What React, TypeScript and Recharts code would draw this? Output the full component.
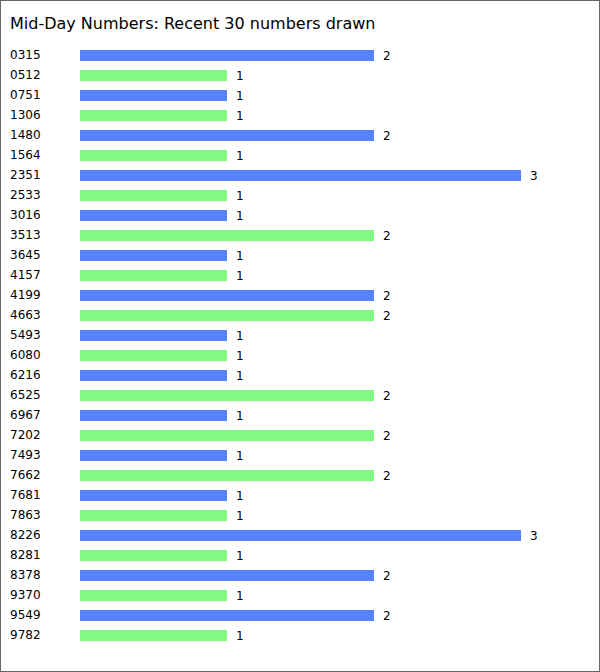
import React from 'react'
import { BarChart, Bar, XAxis, YAxis, Cell, LabelList } from 'recharts'

const numbers = [
  '0315', '0512', '0751', '1306', '1480', '1564', '2351', '2533', '3016', '3513',
  '3645', '4157', '4199', '4663', '5493', '6080', '6216', '6525', '6967', '7202',
  '7493', '7662', '7681', '7863', '8226', '8281', '8378', '9370', '9549', '9782',
]
const timesDrawn = [
  2, 1, 1, 1, 2, 1, 3, 1, 1, 2,
  1, 1, 2, 2, 1, 1, 1, 2, 1, 2,
  1, 2, 1, 1, 3, 1, 2, 1, 2, 1,
]

const data = numbers.map((name, i) => ({ name, count: timesDrawn[i] }))

const FONT = 'Verdana, "DejaVu Sans", sans-serif'

const LeftTick = (props: any) => {
  const { y, payload } = props
  return (
    <text x={10} y={y} dy={4} fontSize={12} fontFamily={FONT} fill="#000" textAnchor="start">
      {payload.value}
    </text>
  )
}

const App: React.FC = () => {
  return (
    <div style={{
      position: 'absolute', top: 0, left: 0, width: 600, height: 672,
      boxSizing: 'border-box', border: '1px solid #666', background: '#fff',
    }}>
      <div style={{
        position: 'absolute', left: 9, top: 13, fontSize: 16,
        fontFamily: FONT, color: '#000', whiteSpace: 'nowrap',
      }}>
        Mid-Day Numbers: Recent 30 numbers drawn
      </div>
      <div style={{ position: 'absolute', left: -1, top: -1 }}>
        <BarChart width={600} height={672} data={data} layout="vertical"
          margin={{ top: 45, right: 79, left: 0, bottom: 27 }}>
          <XAxis type="number" domain={[0, 3]} hide />
          <YAxis type="category" dataKey="name" width={80} axisLine={false}
            tickLine={false} tick={<LeftTick />} interval={0} />
          <Bar dataKey="count" barSize={11} isAnimationActive={false}>
            {data.map((d, i) => (
              <Cell key={d.name} fill={i % 2 === 0 ? '#5882fa' : '#82fa82'} />
            ))}
            <LabelList dataKey="count" position="right" offset={9}
              fontSize={12} fontFamily={FONT} fill="#000" />
          </Bar>
        </BarChart>
      </div>
    </div>
  )
}

export default App
